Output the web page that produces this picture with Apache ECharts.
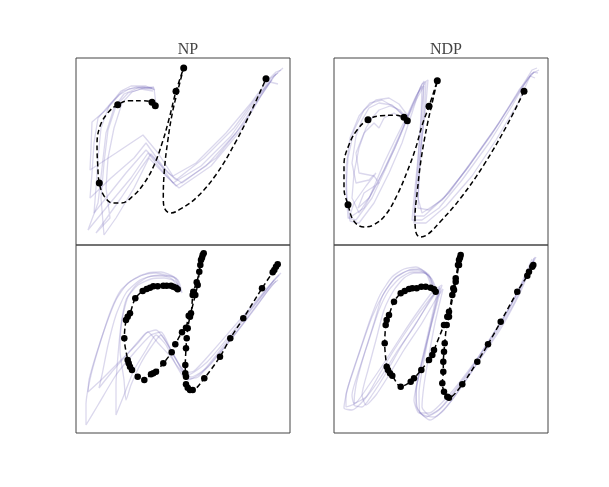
<!DOCTYPE html>
<html><head><meta charset="utf-8">
<script src="https://cdn.jsdelivr.net/npm/echarts@6/dist/echarts.min.js"></script>
<style>html,body{margin:0;padding:0;background:#fff}#c{width:609px;height:487px}</style>
</head><body><div id="c"></div>
<script>
// Panel titles
const titles = ['NP', 'NDP'];

// ---- Panel 1 (NP, top) : values in panel units (x right, y down) ----
const p1Faint = [
 [[80,47],[78,30],[67,29],[53,31],[43,37],[30,52],[16,64],[15,90],[14,112],[40,95],[67,77],[82,95],[97,118],[120,105],[150,75],[175,45],[192,22],[200,14],[205,12]],
 [[79,32],[70,28],[55,28],[45,33],[33,48],[25,70],[22,100],[20,130],[18,155],[30,140],[50,115],[70,92],[85,108],[97,125],[125,108],[155,78],[178,45],[195,20],[202,15]],
 [[78,31],[62,30],[48,36],[38,50],[30,75],[26,110],[22,145],[12,172],[30,150],[55,120],[72,95],[88,115],[100,128],[130,108],[160,75],[182,42],[198,18],[207,10]],
 [[77,33],[65,31],[52,35],[40,48],[32,72],[28,105],[25,140],[28,177],[40,160],[58,130],[73,100],[90,118],[103,130],[135,108],[165,72],[185,38],[196,22]],
 [[76,30],[60,29],[47,33],[35,45],[22,60],[18,85],[16,115],[14,140],[35,120],[58,100],[70,85],[88,110],[100,122],[128,100],[158,70],[180,40],[194,24],[202,26]],
 [[78,29],[68,30],[56,34],[46,45],[38,70],[32,100],[30,130],[34,160],[20,175],[45,140],[65,110],[75,96],[92,115],[106,125],[140,100],[168,65],[188,32],[200,16]]
];
const p1Path = [[79.3,47.7],[76,44.3],[66.7,42.7],[53.3,42.7],[41.7,46.7],[31.7,55],[24,68.3],[21,86.7],[21.7,106.7],[23.3,125],[28.3,138.3],[36.7,145],[45,145],[56.7,138.3],[68.3,125],[78.3,106.7],[86.7,83.3],[93.3,60],[100,33.3],[107.7,10],
 [103.3,26.7],[96.7,53.3],[91.7,83.3],[88.3,113.3],[87.3,140],[89.3,151.7],[95,155],[103.3,151.7],[120,140],[140,116.7],[160,83.3],[176.7,50],[190,20.7]];
const p1Points = [[41.7,46.7],[76,44.3],[79.3,47.7],[23.3,125],[100,33.3],[107.7,10],[190,20.7]];

// ---- Panel 2 (NDP, top) ----
const p2Faint = [
 [[72,60],[62,50],[48,42],[36,45],[25,58],[16,80],[12,110],[13,140],[16,163],[25,165],[40,145],[55,115],[68,85],[78,55],[86,30],[90,23],[88,50],[85,90],[82,130],[80,158],[90,158],[110,140],[135,108],[160,72],[182,38],[198,12],[203,10]],
 [[74,58],[65,46],[55,40],[42,42],[30,52],[20,72],[14,100],[12,130],[14,160],[22,162],[38,140],[52,110],[66,78],[78,48],[88,26],[94,22],[92,45],[88,80],[85,120],[84,150],[95,152],[115,135],[140,100],[165,65],[185,32],[200,14],[204,15]],
 [[70,62],[60,55],[50,60],[45,70],[40,65],[30,75],[22,95],[25,115],[40,118],[45,125],[30,135],[24,150],[35,140],[50,112],[62,85],[74,58],[84,35],[92,24],[90,60],[86,100],[84,140],[88,155],[108,142],[132,112],[158,76],[180,42],[196,18],[201,20]],
 [[73,61],[66,52],[56,48],[45,52],[38,60],[32,70],[25,90],[20,115],[18,140],[25,155],[36,138],[50,105],[62,80],[72,60],[82,38],[88,28],[87,60],[84,100],[80,140],[78,162],[88,162],[105,150],[128,122],[155,85],[178,48],[194,20],[200,14]],
 [[71,59],[58,47],[45,45],[35,50],[28,62],[22,78],[18,105],[22,125],[35,122],[42,115],[32,128],[20,145],[15,160],[30,150],[45,122],[60,92],[72,64],[82,42],[90,28],[89,55],[86,95],[82,135],[80,165],[92,165],[112,148],[138,118],[162,82],[184,45],[197,16],[205,12]]
];
const p2Path = [[73.3,62.7],[70,59.3],[60,57.3],[46.7,57.7],[34,61.7],[23.3,71.7],[15,86.7],[10,106.7],[10,130],[14,146.7],[20,163.3],[30,169],[40,166.7],[51.7,156.7],[63.3,136.7],[73.3,113.3],[81.7,90],[88.3,66.7],[95,48.3],[103.3,22.7],
 [99.3,40],[93.3,66.7],[87.3,100],[83.3,133.3],[81,160],[81.7,173.3],[86,179],[93.3,176.7],[106.7,163.3],[126.7,140],[150,106.7],[173.3,66.7],[190,33.3]];
const p2Points = [[34,61.7],[70,59.3],[73.3,62.7],[14,146.7],[95,48.3],[103.3,22.7],[190,33.3]];

// ---- Panel 3 (NP, bottom) ----
const p3Faint = [
 [[105,47],[100,33],[90,30],[80,28],[67,30],[52,38],[40,55],[30,80],[20,110],[13,135],[12,147],[25,135],[45,115],[62,98],[72,87],[82,98],[95,112],[108,128],[118,126],[135,108],[155,85],[175,62],[192,42],[203,30]],
 [[104,46],[98,32],[85,27],[72,28],[58,34],[45,45],[35,65],[25,95],[15,130],[10,160],[10,180],[22,160],[40,130],[58,108],[75,90],[85,87],[95,105],[105,122],[112,130],[130,118],[150,95],[170,70],[188,48],[200,33],[205,28]],
 [[106,48],[102,35],[92,31],[78,31],[64,35],[50,48],[40,70],[32,100],[26,130],[23,143],[35,128],[55,105],[70,88],[80,85],[92,100],[102,118],[112,135],[125,128],[145,104],[165,78],[185,52],[198,35]],
 [[103,45],[96,34],[84,30],[72,32],[60,40],[50,55],[45,80],[42,110],[40,140],[40,170],[48,150],[58,125],[70,105],[80,90],[90,100],[100,120],[110,134],[122,132],[140,112],[160,88],[180,62],[196,40],[202,35]],
 [[105,46],[99,36],[88,33],[75,34],[62,40],[52,52],[46,75],[44,105],[48,135],[50,155],[55,140],[65,118],[75,102],[85,90],[96,108],[106,124],[115,132],[132,122],[152,98],[172,72],[190,48],[200,36]]
];
const p3Path = [[101.7,44.3],[100,42.7],[97.3,41.7],[95,40.7],[90.7,40.7],[87.3,40.7],[81.7,41.3],[77.3,41.3],[74,42.7],[70.7,44],[66.7,46],[59.3,53.3],[54,68.3],[51.7,71.7],[50,75],[48.3,93.3],[51.7,115],[52.7,118.3],[54,121.7],[56,125],[61.7,131.7],[68.3,135],[75,129.3],[77.3,128.3],[80,126.7],[87.3,118.3],[95.7,107.3],[99.3,99.3],[106,87.3],[110,82.7],[112.7,70.7],[115,68.3],[116.7,50],[117.3,46.7],[120.7,37.3],[123.3,26.7],[125,15],[126,12.7],[126.7,10],[127.7,8.3],
 [124.3,20],[121.7,40],[119.3,50],[114,71.7],[111.7,83.3],[110.7,93.3],[110,103.3],[109.3,120],[109.3,128.3],[110,131.7],[110,139.3],[111.7,142.7],[114,145],[116.7,145],[128.3,133.3],[144,111.7],[154.3,93.3],[167.3,73.3],[186,43.3],[196.7,27.3],[198.3,25],[200,21.7],[201.7,19.3]];

// ---- Panel 4 (NDP, bottom) ----
const p4Faint = [
 [[100,45],[95,30],[85,24],[75,25],[62,32],[50,48],[38,72],[28,100],[18,130],[12,150],[12,162],[22,158],[35,140],[50,118],[68,90],[85,65],[100,45],[108,40],[100,70],[92,100],[85,130],[80,155],[85,168],[95,168],[115,150],[140,118],[165,80],[185,45],[198,18],[200,13]],
 [[102,46],[96,32],[88,27],[78,27],[66,33],[55,45],[45,65],[35,95],[25,125],[18,150],[20,158],[32,152],[45,130],[60,105],[78,78],[95,55],[106,42],[98,75],[90,110],[83,140],[82,160],[92,172],[105,165],[125,140],[150,105],[172,70],[190,35],[200,16]],
 [[98,44],[92,28],[82,22],[70,24],[58,32],[46,50],[36,75],[26,105],[16,135],[10,163],[18,165],[30,155],[45,135],[62,108],[80,82],[96,55],[104,44],[96,80],[88,115],[82,145],[84,165],[96,175],[110,165],[130,138],[155,100],[178,62],[194,28],[201,12]],
 [[103,47],[98,34],[90,28],[80,28],[70,33],[60,45],[50,65],[42,95],[34,125],[28,150],[32,160],[42,150],[55,130],[70,105],[88,78],[102,54],[109,44],[101,78],[95,110],[90,140],[88,162],[95,170],[108,162],[128,138],[152,100],[176,62],[192,28],[198,14]],
 [[100,46],[94,30],[84,25],[73,26],[60,34],[48,52],[40,78],[30,110],[22,140],[20,160],[28,162],[38,150],[52,128],[68,100],[84,75],[99,52],[106,43],[97,80],[90,115],[85,148],[86,168],[100,172],[118,155],[142,120],[166,85],[186,48],[197,22],[202,12]]
];
const p4Path = [[101.7,46.7],[100,44.3],[96.7,42.7],[91.7,41.7],[87.3,41.7],[82.7,43.3],[78.3,43.3],[75,44],[70.7,46],[66.7,48.3],[60,56.7],[55,70],[52.7,75],[51.7,80],[50.7,98.3],[52.7,121.7],[54,125],[56,128.3],[58.3,130.7],[66.7,141.7],[76.7,136.7],[80,133.3],[87.3,125],[95,115],[98.3,110],[100,105],[110,80],[113.3,71.7],[115,66.7],[118.3,50],[119.3,43.3],[121.7,33.3],[124,20],[125,15],[126,12.7],[126.7,10],
 [125,20],[121.7,36.7],[120,45],[115,71.7],[112.7,80],[110.7,98.3],[110,106.7],[109.3,116.7],[109.3,126.7],[108.3,138.3],[110,146.7],[113.3,151.7],[115,152.7],[128.3,139.3],[143.3,116.7],[154,99.3],[166.7,76.7],[183.3,46.7],[193.3,30.7],[195,26.7],[198.3,21.7],[199.3,20]];

const chart = echarts.init(document.getElementById('c'), null, {renderer: 'canvas'});
const grids = [
  {left: 76, top: 58, width: 214, height: 187},
  {left: 334, top: 58, width: 214, height: 187},
  {left: 76, top: 245, width: 214, height: 188},
  {left: 334, top: 245, width: 214, height: 188}
].map(g => Object.assign(g, {show: true, borderColor: '#444', borderWidth: 1, backgroundColor: 'transparent', containLabel: false}));
const xAxes = grids.map((g, i) => ({type: 'value', gridIndex: i, min: 0, max: 214, show: false}));
const yAxes = grids.map((g, i) => ({type: 'value', gridIndex: i, min: 0, max: g.height, inverse: true, show: false}));

const series = [];
const faintColor = 'rgba(110,100,185,0.25)';
function addPanel(i, faint, path, pts, smoothBlack, smoothFaint, symSize) {
  faint.forEach(d => series.push({type: 'line', xAxisIndex: i, yAxisIndex: i, data: d, showSymbol: false, smooth: smoothFaint,
    lineStyle: {color: faintColor, width: 1.3}, silent: true, z: 1}));
  series.push({type: 'line', xAxisIndex: i, yAxisIndex: i, data: path, smooth: smoothBlack,
    showSymbol: !pts, symbol: 'circle', symbolSize: symSize, itemStyle: {color: '#000', opacity: 1},
    lineStyle: {color: '#000', width: 1.5, type: [5, 3]}, silent: true, z: 3});
  if (pts) series.push({type: 'scatter', xAxisIndex: i, yAxisIndex: i, data: pts, symbol: 'circle', symbolSize: symSize,
    itemStyle: {color: '#000', opacity: 1}, silent: true, z: 4});
}
addPanel(0, p1Faint, p1Path, p1Points, 0.4, false, 7);
addPanel(1, p2Faint, p2Path, p2Points, 0.4, false, 7);
addPanel(2, p3Faint, p3Path, null, 0.3, 0.2, 6.5);
addPanel(3, p4Faint, p4Path, null, 0.3, 0.2, 6.5);

chart.setOption({
  animation: false,
  backgroundColor: '#fff',
  title: [
    {text: titles[0], left: 183, top: 37, textAlign: 'center', textStyle: {fontFamily: 'Liberation Serif', fontSize: 16, fontWeight: 'normal', color: '#444'}},
    {text: titles[1], left: 441, top: 37, textAlign: 'center', textStyle: {fontFamily: 'Liberation Serif', fontSize: 16, fontWeight: 'normal', color: '#444'}}
  ],
  grid: grids, xAxis: xAxes, yAxis: yAxes, series: series
});
</script></body></html>
